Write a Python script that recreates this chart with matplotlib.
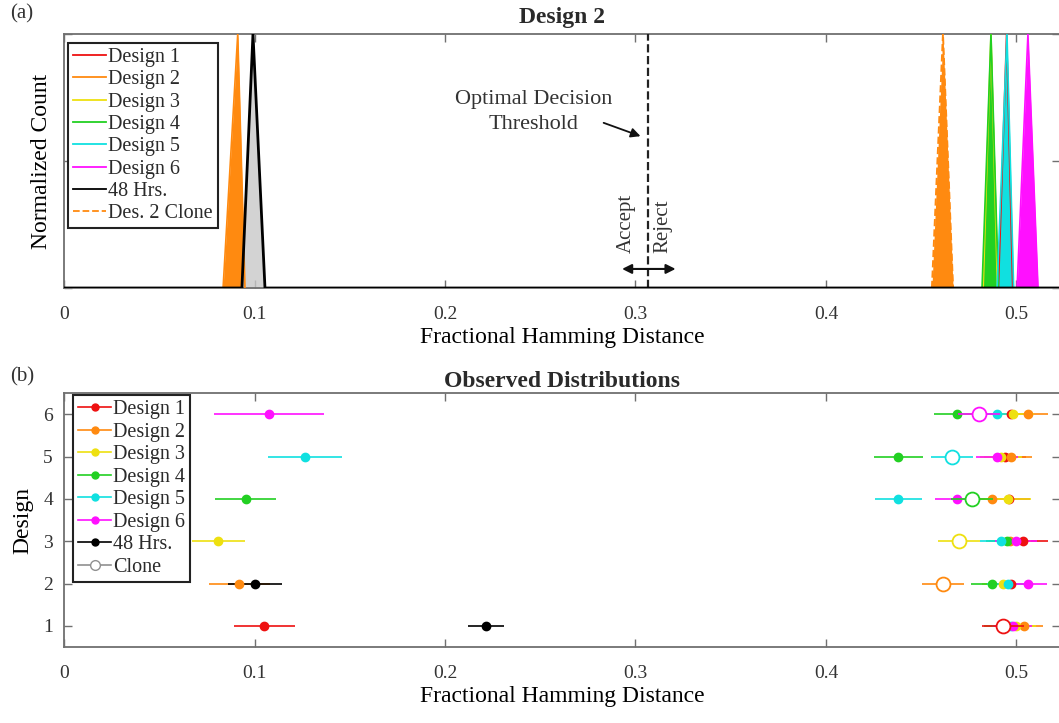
import numpy as np
import matplotlib
matplotlib.use('Agg')
import matplotlib.pyplot as plt
from matplotlib.lines import Line2D

plt.rcParams['font.family'] = ['Liberation Serif', 'DejaVu Serif']
plt.rcParams['text.color'] = '#2a2a2a'

# ---- panel (a): Design 2 distributions (x, normalized count) ----
d1_x, d1_y = [0.4905, 0.4948, 0.4980], [0, 1, 0]
d2_x, d2_y = [0.0835, 0.0912, 0.0950], [0, 1, 0]
d3_x, d3_y = [0.4825, 0.4866, 0.4900], [0, 1, 0]
d4_x, d4_y = [0.4819, 0.4866, 0.4905], [0, 1, 0]
d5_x, d5_y = [0.4898, 0.4950, 0.4985], [0, 1, 0]
d6_x, d6_y = [0.5003, 0.5060, 0.5113], [0, 1, 0]
h48_x, h48_y = [0.0, 0.0934, 0.0992, 0.1055, 0.55], [0, 0, 1, 0, 0]
clone_x, clone_y = [0.4556, 0.4614, 0.4667], [0, 1, 0]
threshold = 0.3066

# ---- panel (b): observed distributions, mean +/- spread per design row ----
rows = [1, 2, 3, 4, 5, 6]
des1_mean = [0.105, 0.497, 0.5034, 0.496, 0.494, 0.497]
des1_err = [0.016, 0.011, 0.013, 0.011, 0.011, 0.011]
des2_mean = [0.504, 0.092, 0.4966, 0.487, 0.497, 0.506]
des2_err = [0.010, 0.016, 0.011, 0.011, 0.011, 0.0106]
des3_mean = [0.500, 0.493, 0.081, 0.4955, 0.492, 0.498]
des3_err = [0.010, 0.011, 0.014, 0.012, 0.011, 0.011]
des4_mean = [0.493, 0.487, 0.495, 0.0955, 0.438, 0.4688]
des4_err = [0.010, 0.011, 0.011, 0.016, 0.013, 0.012]
des5_mean = [0.497, 0.4955, 0.492, 0.438, 0.1265, 0.490]
des5_err = [0.010, 0.011, 0.011, 0.0125, 0.0195, 0.011]
des6_mean = [0.498, 0.506, 0.4997, 0.469, 0.490, 0.1076]
des6_err = [0.010, 0.010, 0.011, 0.012, 0.011, 0.029]
hrs48_rows = [1, 2]
hrs48_mean = [0.2215, 0.1003]
hrs48_err = [0.0093, 0.014]
clone_mean = [0.493, 0.4614, 0.470, 0.4766, 0.466, 0.4803]
clone_err = [0.011, 0.011, 0.011, 0.011, 0.011, 0.011]

names = ['Design 1', 'Design 2', 'Design 3', 'Design 4', 'Design 5', 'Design 6']
colors = ['#ee1111', '#ff8a10', '#eee010', '#22d022', '#10e0e0', '#ff10ff']
xticks = [0, 0.1, 0.2, 0.3, 0.4, 0.5]
xticklabels = ['0', '0.1', '0.2', '0.3', '0.4', '0.5']

W, H = 1059, 723
fig = plt.figure(figsize=(W / 100, H / 100), dpi=100)
px_per_unit = 1905.0
x0 = 64
xmax = (W + 1 - x0) / px_per_unit
axw = (W + 1 - x0) / W
ax1 = fig.add_axes([x0 / W, (H - 288) / H, axw, 254 / H])
ax2 = fig.add_axes([x0 / W, (H - 647) / H, axw, 254 / H])

spine_col = '#707070'
for ax in (ax1, ax2):
    for s in ax.spines.values():
        s.set_color(spine_col)
        s.set_linewidth(1.3)
    ax.tick_params(direction='in', top=True, right=True, length=6, width=1,
                   color=spine_col, labelsize=14, labelcolor='#333333')
    ax.tick_params(axis='x', pad=13)
    ax.set_xlim(0, xmax)
    ax.set_xticks(xticks)
    ax.set_xticklabels(xticklabels)
    ax.set_xlabel('Fractional Hamming Distance', fontsize=17, labelpad=3)

# panel (a)
peaks = [(d1_x, d1_y), (d2_x, d2_y), (d3_x, d3_y), (d4_x, d4_y), (d5_x, d5_y), (d6_x, d6_y)]
draw_order = [2, 0, 1, 3, 4, 5]
for i in draw_order:
    px, py = peaks[i]
    ax1.fill_between(px, py, color=colors[i], lw=0, zorder=2)
    ax1.plot(px, py, color=colors[i], lw=1.2, zorder=3)
ax1.fill_between(h48_x, h48_y, color='#c8c8c8', alpha=0.8, lw=0, zorder=2)
ax1.plot(h48_x, h48_y, color='black', lw=2.0, zorder=4)
ax1.fill_between(clone_x, clone_y, color=colors[1], lw=0, zorder=2)
ax1.plot(clone_x, clone_y, color=colors[1], lw=1.4, ls='--', zorder=3)
ax1.plot([threshold, threshold], [0, 1], color='#222222', lw=1.6, ls='--', zorder=3)

ax1.set_ylim(0, 1)
ax1.set_yticks([0, 0.5, 1])
ax1.set_yticklabels([])
ax1.set_ylabel('Normalized Count', fontsize=17)
ax1.yaxis.set_label_coords(-0.012, 0.5)
ax1.set_title('Design 2', fontsize=17, fontweight='bold', pad=8)

ax1.text(0.2467, 0.693, 'Optimal Decision\nThreshold', ha='center', va='center',
         fontsize=16, linespacing=1.45, color='#333333')
ax1.annotate('', xy=(0.3040, 0.594), xytext=(0.2819, 0.654),
             arrowprops=dict(arrowstyle='-|>', color='#111111', lw=1.3, mutation_scale=14))
ax1.text(0.2950, 0.138, 'Accept', rotation=90, ha='center', va='bottom', fontsize=15,
         color='#333333')
ax1.text(0.3144, 0.138, 'Reject', rotation=90, ha='center', va='bottom', fontsize=15,
         color='#333333')
ax1.annotate('', xy=(0.2915, 0.075), xytext=(0.3225, 0.075),
             arrowprops=dict(arrowstyle='<|-|>', color='#111111', lw=1.5, mutation_scale=14))

h1 = [Line2D([], [], color=c, lw=1.3) for c in colors]
h1.append(Line2D([], [], color='black', lw=1.3))
h1.append(Line2D([], [], color=colors[1], lw=1.3, ls='--'))
leg1 = ax1.legend(h1, names + ['48 Hrs.', 'Des. 2 Clone'], loc='upper left',
                  bbox_to_anchor=(0.004, 0.965), borderaxespad=0, fontsize=14.5,
                  handlelength=1.65, handletextpad=0.1, labelspacing=0.16,
                  borderpad=0.25, fancybox=False, framealpha=1, edgecolor='#222222')
leg1.get_frame().set_linewidth(1.5)
leg1.set_zorder(10)

# panel (b)
means = [des1_mean, des2_mean, des3_mean, des4_mean, des5_mean, des6_mean]
errs = [des1_err, des2_err, des3_err, des4_err, des5_err, des6_err]
for i in range(6):
    ax2.errorbar(means[i], rows, xerr=errs[i], fmt='o', color=colors[i], ms=6,
                 elinewidth=1.2, capsize=0, zorder=3)
ax2.errorbar(hrs48_mean, hrs48_rows, xerr=hrs48_err, fmt='o', color='black', ms=6,
             elinewidth=1.2, capsize=0, zorder=3)
for r, m, e in zip(rows, clone_mean, clone_err):
    ax2.errorbar([m], [r], xerr=[e], fmt='o', mfc='white', mec=colors[r - 1],
                 color=colors[r - 1], ms=10, mew=1.3, elinewidth=1.2, capsize=0, zorder=4)

ax2.set_ylim(0.5, 6.5)
ax2.set_yticks(rows)
ax2.tick_params(axis='y', pad=8)
ax2.set_ylabel('Design', fontsize=17)
ax2.yaxis.set_label_coords(-0.031, 0.5)
ax2.set_title('Observed Distributions', fontsize=17, fontweight='bold', pad=4)

h2 = [Line2D([], [], color=c, lw=1.2, marker='o', ms=5) for c in colors]
h2.append(Line2D([], [], color='black', lw=1.2, marker='o', ms=5))
h2.append(Line2D([], [], color='#909090', lw=1.2, marker='o', ms=7, mfc='white'))
leg2 = ax2.legend(h2, names + ['48 Hrs.', 'Clone'], loc='upper left',
                  bbox_to_anchor=(0.009, 0.992), borderaxespad=0, fontsize=14.5,
                  handlelength=1.65, handletextpad=0.1, labelspacing=0.17,
                  borderpad=0.25, fancybox=False, framealpha=1, edgecolor='#222222')
leg2.get_frame().set_linewidth(1.5)
leg2.set_zorder(10)

fig.text(10 / W, 1 - 14 / H, '(a)', fontsize=15, va='center', ha='left', color='#333333')
fig.text(10 / W, 1 - 377 / H, '(b)', fontsize=15, va='center', ha='left', color='#333333')

fig.savefig('out.png', dpi=100)
